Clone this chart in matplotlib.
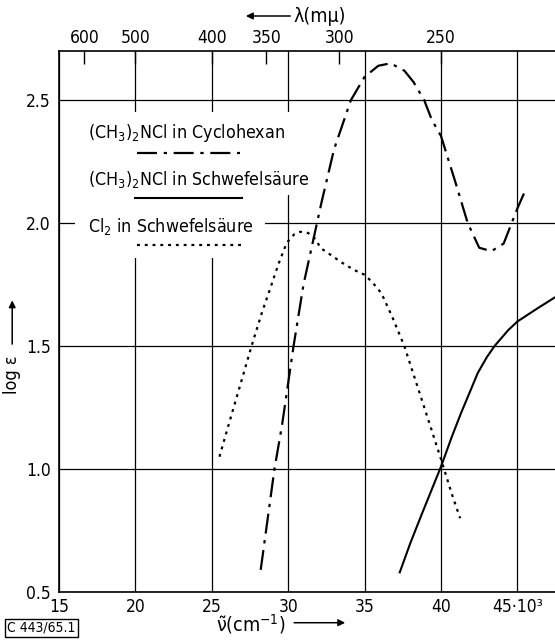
import numpy as np
import matplotlib.pyplot as plt
from matplotlib.patches import Rectangle

plt.rcParams['font.family'] = ['DejaVu Sans']
plt.rcParams['font.stretch'] = 'condensed'
plt.rcParams['mathtext.default'] = 'regular'

# (CH3)2NCl in Cyclohexan  (Wellenzahl in 10^3 cm^-1, log eps)
cyc_x = [28.2, 29.1, 29.6, 30.35, 31.0, 31.6, 32.2, 33.0, 34.1, 35.0, 35.9, 36.7,
         37.6, 38.2, 38.9, 39.4, 40.0, 40.9, 41.75, 42.5, 43.3, 44.1, 45.0, 45.6]
cyc_y = [0.59, 1.0, 1.18, 1.5, 1.75, 1.92, 2.09, 2.30, 2.50, 2.595, 2.64, 2.65,
         2.62, 2.574, 2.50, 2.42, 2.354, 2.175, 2.0, 1.90, 1.886, 1.917, 2.06, 2.145]

# (CH3)2NCl in Schwefelsaeure
sch_x = [37.3, 38.0, 38.7, 40.0, 40.7, 41.3, 42.0, 42.4, 43.0, 43.5, 44.4, 45.0, 46.3, 47.5]
sch_y = [0.58, 0.70, 0.81, 1.01, 1.13, 1.226, 1.33, 1.39, 1.455, 1.50, 1.565, 1.60, 1.653, 1.70]

# Cl2 in Schwefelsaeure
cl_x = [25.5, 26.1, 26.9, 27.6, 28.3, 28.8, 29.4, 29.9, 30.4, 30.8, 31.3, 31.8, 32.1,
        32.8, 33.5, 34.3, 35.0, 35.5, 36.1, 36.8, 37.6, 38.7, 40.0, 40.7, 41.25]
cl_y = [1.05, 1.18, 1.35, 1.50, 1.64, 1.73, 1.84, 1.92, 1.955, 1.965, 1.96, 1.935, 1.90,
        1.87, 1.84, 1.81, 1.79, 1.76, 1.715, 1.62, 1.50, 1.29, 1.04, 0.90, 0.80]

x_ticks = [15, 20, 25, 30, 35, 40, 45]
x_labels = ['15', '20', '25', '30', '35', '40', '45·10³']
y_ticks = [0.5, 1.0, 1.5, 2.0, 2.5]
y_labels = ['0.5', '1.0', '1.5', '2.0', '2.5']
lam_ticks = [600, 500, 400, 350, 300, 250]  # m-mu

dashdot = (0, (9, 3, 1.5, 3))
dotted = (0, (1.3, 2.2))

fig = plt.figure(figsize=(5.55, 6.4), dpi=100)
ax = fig.add_axes([0.1063, 0.075, 0.8937, 0.8453])
ax.set_xlim(15, 47.46)
ax.set_ylim(0.5, 2.7)
ax.set_axisbelow(True)
ax.grid(True, color='black', lw=0.9)
ax.set_xticks(x_ticks, x_labels)
ax.set_yticks(y_ticks, y_labels)
ax.tick_params(axis='x', length=0, labelsize=12.5, pad=4)
ax.tick_params(axis='y', length=0, labelsize=12.5, pad=6)
ax.spines['right'].set_visible(False)
for s in ['left', 'top', 'bottom']:
    ax.spines[s].set_linewidth(1.2)

# weisser Hintergrund fuer die Legende
ax.add_patch(Rectangle((0.032, 0.734), 0.444, 0.153, transform=ax.transAxes,
                       facecolor='white', edgecolor='none', zorder=1))
ax.add_patch(Rectangle((0.032, 0.617), 0.383, 0.12, transform=ax.transAxes,
                       facecolor='white', edgecolor='none', zorder=1))

ax.plot(cyc_x, cyc_y, color='black', lw=1.6, ls=dashdot, zorder=2)
ax.plot(sch_x, sch_y, color='black', lw=1.5, zorder=2)
ax.plot(cl_x, cl_y, color='black', lw=1.6, ls=dotted, zorder=2)

# Legende
ax.text(0.058, 0.848, '(CH$_3$)$_2$NCl in Cyclohexan', transform=ax.transAxes,
        fontsize=12.8, va='center', zorder=3)
ax.plot([0.157, 0.365], [0.811, 0.811], transform=ax.transAxes, color='black',
        lw=1.6, ls=dashdot, zorder=3)
ax.text(0.058, 0.762, '(CH$_3$)$_2$NCl in Schwefelsäure', transform=ax.transAxes,
        fontsize=12.8, va='center', zorder=3)
ax.plot([0.153, 0.369], [0.728, 0.728], transform=ax.transAxes, color='black',
        lw=1.5, zorder=3)
ax.text(0.058, 0.675, 'Cl$_2$ in Schwefelsäure', transform=ax.transAxes,
        fontsize=12.8, va='center', zorder=3)
ax.plot([0.157, 0.375], [0.641, 0.641], transform=ax.transAxes, color='black',
        lw=1.6, ls=dotted, zorder=3)

# obere Achse: Wellenlaenge
top = ax.twiny()
top.set_xlim(ax.get_xlim())
top.set_xticks([1e4 / l for l in lam_ticks], [str(l) for l in lam_ticks])
top.tick_params(direction='in', length=9, width=1, labelsize=12.5, pad=3)
for s in top.spines.values():
    s.set_visible(False)

arrow = dict(arrowstyle='-|>', color='black', lw=1.1)
fig.text(0.528, 0.975, 'λ(mμ)', fontsize=14, va='center', ha='left')
ax.annotate('', xy=(0.438, 0.975), xytext=(0.528, 0.975), xycoords='figure fraction',
            arrowprops=arrow, annotation_clip=False)

fig.text(0.39, 0.025, r'$\tilde{\nu}$(cm$^{-1}$)', fontsize=14, va='center', ha='left')
ax.annotate('', xy=(0.627, 0.027), xytext=(0.525, 0.027), xycoords='figure fraction',
            arrowprops=arrow, annotation_clip=False)

fig.text(0.022, 0.415, 'log ε', fontsize=13, rotation=90, va='center', ha='center')
ax.annotate('', xy=(0.022, 0.535), xytext=(0.022, 0.458), xycoords='figure fraction',
            arrowprops=arrow, annotation_clip=False)

fig.text(0.075, 0.019, 'C 443/65.1', fontsize=10, ha='center', va='center',
         bbox=dict(boxstyle='square,pad=0.15', facecolor='white', edgecolor='black', lw=1))

fig.savefig('out.png', dpi=100)
